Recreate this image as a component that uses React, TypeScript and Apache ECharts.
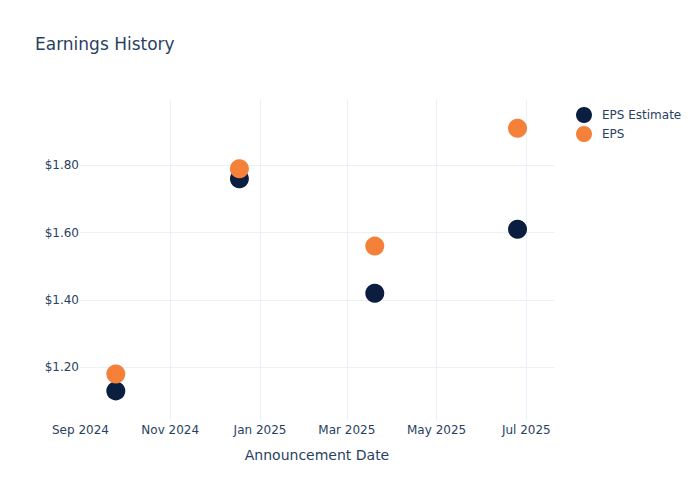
import { useEffect, useRef } from "react";
import * as echarts from "echarts";

const announcementDates = ["2024-09-25", "2024-12-18", "2025-03-20", "2025-06-25"];
const epsEstimate = [1.13, 1.76, 1.42, 1.61];
const epsActual = [1.18, 1.79, 1.56, 1.91];
const xTickDates = ["2024-09-01", "2024-11-01", "2025-01-01", "2025-03-01", "2025-05-01", "2025-07-01"];
const yTicks = [1.2, 1.4, 1.6, 1.8];

const MONTHS = ["Jan", "Feb", "Mar", "Apr", "May", "Jun", "Jul", "Aug", "Sep", "Oct", "Nov", "Dec"];
const FONT = "DejaVu Sans";
const TEXT = "#2a3f5f";
const GRID = "#ebf0f8";

const toTime = (d: string) => new Date(d + "T00:00:00").getTime();

export default function App() {
  const chartRef = useRef<HTMLDivElement>(null);

  useEffect(() => {
    if (!chartRef.current) return;
    const chart = echarts.init(chartRef.current, null, { renderer: "svg" });
    const xTicks = xTickDates.map(toTime);

    const option = {
      animation: false,
      textStyle: { fontFamily: FONT, color: TEXT },
      title: {
        text: "Earnings History",
        left: 35,
        top: 35,
        padding: 0,
        textStyle: { fontFamily: FONT, fontSize: 17, fontWeight: "normal", color: TEXT }
      },
      legend: {
        orient: "vertical",
        left: 576,
        top: 107,
        padding: 0,
        itemGap: 3,
        itemWidth: 26,
        itemHeight: 16,
        icon: "circle",
        textStyle: { fontFamily: FONT, fontSize: 12, color: TEXT },
        data: ["EPS Estimate", "EPS"]
      },
      grid: { left: 80, right: 146, top: 100, bottom: 80, containLabel: false },
      xAxis: {
        type: "value",
        min: new Date("2024-08-31T16:00:00").getTime(),
        max: new Date("2025-07-19T19:00:00").getTime(),
        name: "Announcement Date",
        nameLocation: "middle",
        nameGap: 28,
        nameTextStyle: { fontFamily: FONT, fontSize: 14, color: TEXT },
        axisLine: { show: false },
        axisTick: { show: false, customValues: xTicks },
        axisLabel: {
          customValues: xTicks,
          margin: 4,
          fontFamily: FONT,
          fontSize: 12,
          color: TEXT,
          formatter: (v: number) => {
            const d = new Date(v);
            return MONTHS[d.getMonth()] + " " + d.getFullYear();
          }
        },
        splitLine: { show: true, showMinLine: false, lineStyle: { color: GRID, width: 1 } }
      },
      yAxis: {
        type: "value",
        min: 1.0435,
        max: 1.994,
        axisLine: { show: false },
        axisTick: { show: false, customValues: yTicks },
        axisLabel: {
          customValues: yTicks,
          margin: 1,
          fontFamily: FONT,
          fontSize: 12,
          color: TEXT,
          formatter: (v: number) => "$" + v.toFixed(2)
        },
        splitLine: { show: true, lineStyle: { color: GRID, width: 1 } }
      },
      series: [
        {
          name: "EPS Estimate",
          type: "scatter",
          symbolSize: 19,
          itemStyle: { color: "#0b1e3f", opacity: 1 },
          data: announcementDates.map((d, i) => [toTime(d), epsEstimate[i]])
        },
        {
          name: "EPS",
          type: "scatter",
          symbolSize: 19,
          itemStyle: { color: "#f5803a", opacity: 1 },
          data: announcementDates.map((d, i) => [toTime(d), epsActual[i]])
        }
      ]
    };

    chart.setOption(option);
    return () => {
      chart.dispose();
    };
  }, []);

  return <div ref={chartRef} style={{ width: "700px", height: "500px", margin: "-8px" }} />;
}
